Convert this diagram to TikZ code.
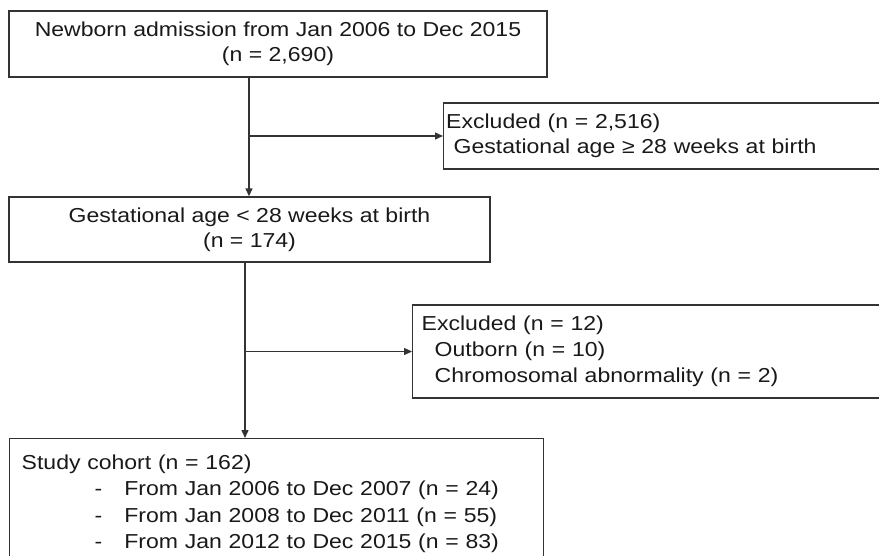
\documentclass[tikz,border=0pt]{standalone}
\usepackage{fontspec}
\setmainfont{Liberation Sans}[FakeStretch=1.14]
\usetikzlibrary{arrows.meta,positioning,calc}
\tikzset{
  flowarr/.style={-{Triangle[length=8pt,width=7pt]}, line width=1.4pt, draw=black!80},
  flowbox/.style={draw=black!80, line width=1.4pt, inner sep=0pt},
  flowtext/.style={font=\fontsize{20.2}{25}\selectfont, text=black!90},
}

\begin{document}
\begin{tikzpicture}[x=1pt, y=-1pt]
  \useasboundingbox (0,0) rectangle (879,555);
  % boxes of the main column
  \node[flowbox, flowtext, minimum width=538pt, minimum height=66pt, align=center] (b1) at (278,44)
    {Newborn admission from Jan 2006 to Dec 2015\\(n = 2,690)};
  \node[flowbox, flowtext, minimum width=481pt, minimum height=65pt, align=center] (b2) at (249.5,229.5)
    {Gestational age < 28 weeks at birth\\(n = 174)};
  \node[flowbox, font=\fontsize{20.2}{26.5}\selectfont, text=black!90, anchor=north west, text width=510pt,
        inner xsep=12pt, inner ysep=16pt, align=left] (b3) at (9,438)
    {Study cohort (n = 162)\\
     \hspace*{73pt}-\hspace*{22pt}From Jan 2006 to Dec 2007 (n = 24)\\
     \hspace*{73pt}-\hspace*{22pt}From Jan 2008 to Dec 2011 (n = 55)\\
     \hspace*{73pt}-\hspace*{22pt}From Jan 2012 to Dec 2015 (n = 83)};
  % exclusion boxes
  \node[flowbox, flowtext, anchor=west, minimum height=66pt, text width=480pt, inner xsep=2.5pt, align=left] (ex1) at (443,136)
    {Excluded (n = 2,516)\\\hspace*{7.5pt}Gestational age ≥ 28 weeks at birth};
  \node[flowbox, font=\fontsize{20.2}{26}\selectfont, text=black!90, anchor=west, minimum height=93pt,
        text width=480pt, inner xsep=9pt, align=left] (ex2) at (412,351.5)
    {Excluded (n = 12)\\\hspace*{13pt}Outborn (n = 10)\\\hspace*{13pt}Chromosomal abnormality (n = 2)\\[-4pt]};
  % connectors
  \coordinate (j1) at (249,136);
  \coordinate (j2) at (245,351.5);
  \draw[flowarr] (b1.south -| j1) -- (b2.north -| j1);
  \draw[flowarr] (b2.south -| j2) -- (b3.north -| j2);
  \foreach \a/\b in {j1/ex1,j2/ex2}
    \draw[flowarr] (\a) -- (\b.west);
\end{tikzpicture}
\end{document}
